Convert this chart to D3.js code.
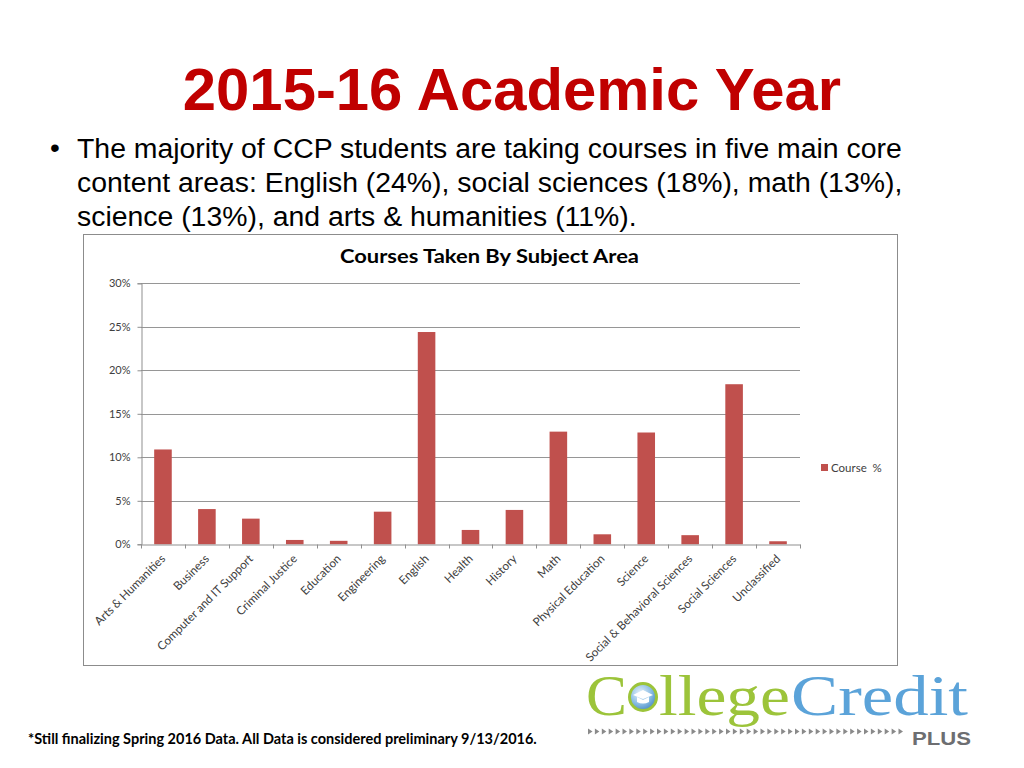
<!DOCTYPE html>
<html>
<head>
<meta charset="utf-8">
<script src="https://cdn.jsdelivr.net/npm/d3@7"></script>
<style>
  html, body { margin: 0; padding: 0; background: #ffffff; }
  svg { display: block; }
</style>
</head>
<body>
<svg id="chart" width="1024" height="768"></svg>
<script>
// ---- Data ----
const categories = [
  "Arts & Humanities", "Business", "Computer and IT Support", "Criminal Justice",
  "Education", "Engineering", "English", "Health", "History", "Math",
  "Physical Education", "Science", "Social & Behavioral Sciences",
  "Social Sciences", "Unclassified"
];
const coursePct = [10.9, 4.05, 2.95, 0.5, 0.4, 3.75, 24.4, 1.65, 3.95, 12.95, 1.15, 12.85, 1.05, 18.4, 0.35];
const yTicks = [0, 5, 10, 15, 20, 25, 30];
const seriesName = "Course  %";
const slideTitle = "2015-16 Academic Year";
const bulletLines = [
  "The majority of CCP students are taking courses in five main core",
  "content areas: English (24%), social sciences (18%), math (13%),",
  "science (13%), and arts & humanities (11%)."
];
const chartTitle = "Courses Taken By Subject Area";
const footnote = "*Still finalizing Spring 2016 Data. All Data is considered preliminary 9/13/2016.";

const svg = d3.select("#chart");

// ---- Slide title ----
svg.append("text")
  .attr("x", 512).attr("y", 110)
  .attr("text-anchor", "middle")
  .attr("font-family", "Liberation Sans, Arial, sans-serif")
  .attr("font-weight", "bold")
  .attr("font-size", 59.8)
  .attr("fill", "#c00000")
  .text(slideTitle);

// ---- Bullet ----
svg.append("text")
  .attr("x", 50).attr("y", 157)
  .attr("font-family", "Liberation Sans, Arial, sans-serif")
  .attr("font-size", 28)
  .attr("fill", "#000")
  .text("•");
svg.append("g").selectAll("text").data(bulletLines).join("text")
  .attr("x", 77)
  .attr("y", (d, i) => 158 + i * 34)
  .attr("font-family", "Liberation Sans, Arial, sans-serif")
  .attr("font-size", 28.4)
  .attr("fill", "#000")
  .text(d => d);

// ---- Chart frame ----
svg.append("rect")
  .attr("x", 83.5).attr("y", 234.5)
  .attr("width", 814).attr("height", 431)
  .attr("fill", "#fff")
  .attr("stroke", "#8c8c8c")
  .attr("stroke-width", 1);

svg.append("text")
  .attr("x", 340).attr("y", 263)
  .attr("font-family", "Lato, Open Sans, sans-serif")
  .attr("font-weight", "bold")
  .attr("font-size", 19)
  .attr("fill", "#000")
  .attr("textLength", 299).attr("lengthAdjust", "spacingAndGlyphs")
  .text(chartTitle);

// ---- Scales ----
const plotLeft = 141, plotRight = 800, plotTop = 283.3, plotBottom = 544.3;
const x = d3.scaleBand()
  .domain(categories)
  .range([plotLeft, plotRight])
  .paddingInner(0.6)
  .paddingOuter(0.3);
const y = d3.scaleLinear().domain([0, 30]).range([plotBottom, plotTop]);

// gridlines
svg.append("g").selectAll("line").data(yTicks.filter(d => d > 0)).join("line")
  .attr("x1", plotLeft).attr("x2", plotRight)
  .attr("y1", d => Math.round(y(d)) + 0.5).attr("y2", d => Math.round(y(d)) + 0.5)
  .attr("stroke", "#969696").attr("stroke-width", 1);

// y axis
const yAxis = svg.append("g")
  .attr("transform", `translate(${plotLeft + 0.5},0)`)
  .call(d3.axisLeft(y).tickValues(yTicks).tickFormat(d => d + "%").tickSize(4).tickPadding(7));
yAxis.select(".domain").attr("stroke", "#8f8f8f");
yAxis.selectAll(".tick line").attr("stroke", "#8f8f8f");
yAxis.selectAll(".tick text")
  .attr("font-family", "Lato, Open Sans, sans-serif")
  .attr("font-size", 11)
  .attr("fill", "#404040");

// bars
svg.append("g").selectAll("rect").data(coursePct).join("rect")
  .attr("x", (d, i) => x(categories[i]))
  .attr("y", d => y(d))
  .attr("width", x.bandwidth())
  .attr("height", d => y(0) - y(d))
  .attr("fill", "#c0504d");

// x axis
const xAxis = svg.append("g")
  .attr("transform", `translate(0,${Math.round(plotBottom) + 0.5})`)
  .call(d3.axisBottom(x).tickSize(0).tickPadding(0));
xAxis.select(".domain").attr("stroke", "#8f8f8f");
xAxis.selectAll(".tick text")
  .attr("font-family", "Lato, Open Sans, sans-serif")
  .attr("font-size", 11.7)
  .attr("fill", "#404040")
  .attr("text-anchor", "end")
  .attr("dy", null)
  .attr("y", 0)
  .attr("transform", "translate(3,15) rotate(-45)");
// boundary tick marks (between categories)
const boundaries = d3.range(categories.length + 1).map(i => plotLeft + i * x.step());
xAxis.append("g").selectAll("line").data(boundaries).join("line")
  .attr("x1", d => Math.round(d) + 0.5).attr("x2", d => Math.round(d) + 0.5)
  .attr("y1", 0).attr("y2", 4)
  .attr("stroke", "#8f8f8f");

// legend
const legend = svg.append("g").attr("transform", "translate(821,464)");
legend.append("rect").attr("width", 7).attr("height", 7).attr("fill", "#c0504d");
legend.append("text")
  .attr("x", 10).attr("y", 7.5)
  .attr("font-family", "Lato, Open Sans, sans-serif")
  .attr("font-size", 11.5)
  .attr("fill", "#404040")
  .attr("xml:space", "preserve")
  .style("white-space", "pre")
  .text(seriesName);

// ---- Footnote ----
svg.append("text")
  .attr("x", 28).attr("y", 744)
  .attr("font-family", "Lato, Open Sans, sans-serif")
  .attr("font-weight", "bold")
  .attr("font-size", 14.5)
  .attr("fill", "#000")
  .text(footnote);

// ---- Logo ----
const logo = svg.append("g");
const green = "#9cc43a", blue = "#5ba3d9";
const logoFont = "Liberation Serif, DejaVu Serif, serif";
logo.append("text")
  .attr("x", 586).attr("y", 715)
  .attr("font-family", logoFont)
  .attr("font-size", 58)
  .attr("fill", green)
  .attr("textLength", 41).attr("lengthAdjust", "spacingAndGlyphs")
  .text("C");
const grad = svg.append("defs").append("radialGradient").attr("id", "orb")
  .attr("cx", "40%").attr("cy", "35%").attr("r", "65%");
grad.append("stop").attr("offset", "0%").attr("stop-color", "#e6f1fa");
grad.append("stop").attr("offset", "60%").attr("stop-color", "#8fc0e6");
grad.append("stop").attr("offset", "100%").attr("stop-color", "#4f8fc8");
logo.append("circle").attr("cx", 643).attr("cy", 697).attr("r", 13.5)
  .attr("fill", "url(#orb)").attr("stroke", green).attr("stroke-width", 3);
logo.append("path")
  .attr("d", "M633,695 L643,690 L653,695 L643,699 Z M637,697 L637,702 Q643,705 649,702 L649,697 L643,700 Z")
  .attr("fill", "#ffffff");
logo.append("text")
  .attr("x", 659).attr("y", 715)
  .attr("font-family", logoFont)
  .attr("font-size", 58)
  .attr("fill", green)
  .attr("textLength", 131).attr("lengthAdjust", "spacingAndGlyphs")
  .text("llege");
logo.append("text")
  .attr("x", 791).attr("y", 715)
  .attr("font-family", logoFont)
  .attr("font-size", 58)
  .attr("fill", blue)
  .attr("textLength", 177).attr("lengthAdjust", "spacingAndGlyphs")
  .text("Credit");
logo.append("g").selectAll("path").data(d3.range(46)).join("path")
  .attr("d", i => { const x0 = 588 + i * 6.9; return `M${x0},728.5 L${x0 + 4.5},731.5 L${x0},734.5 Z`; })
  .attr("fill", "#8a8a8a");
logo.append("text")
  .attr("x", 912).attr("y", 745)
  .attr("font-family", "Liberation Sans, Arial, sans-serif")
  .attr("font-weight", "bold")
  .attr("font-size", 19)
  .attr("fill", "#6d6e71")
  .attr("textLength", 59).attr("lengthAdjust", "spacingAndGlyphs")
  .text("PLUS");
</script>
</body>
</html>
